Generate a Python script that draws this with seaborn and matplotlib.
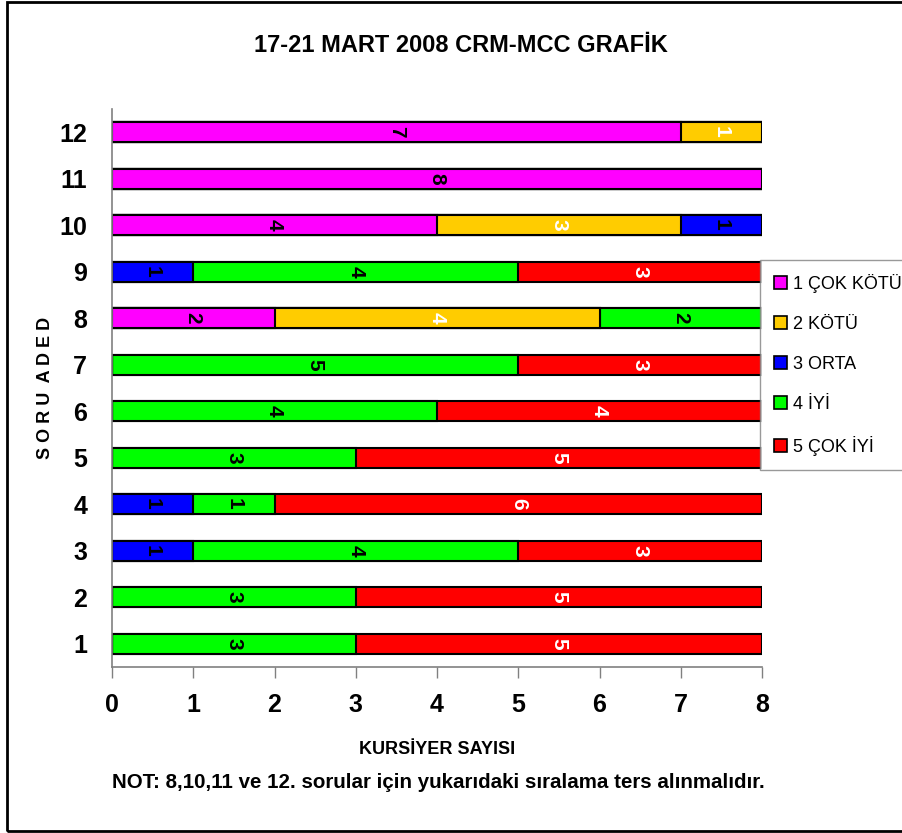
import matplotlib
matplotlib.use("Agg")
import matplotlib.pyplot as plt
import matplotlib.patches as mpatches
import numpy as np
import pandas as pd
import seaborn as sns

# Questions (bottom to top) and counts per rating
questions = ["1", "2", "3", "4", "5", "6", "7", "8", "9", "10", "11", "12"]
cok_kotu = [0, 0, 0, 0, 0, 0, 0, 2, 0, 4, 8, 7]
kotu     = [0, 0, 0, 0, 0, 0, 0, 4, 0, 3, 0, 1]
orta     = [0, 0, 1, 1, 0, 0, 0, 0, 1, 1, 0, 0]
iyi      = [3, 3, 4, 1, 3, 4, 5, 2, 4, 0, 0, 0]
cok_iyi  = [5, 5, 3, 6, 5, 4, 3, 0, 3, 0, 0, 0]

series_names = ["1 ÇOK KÖTÜ", "2 KÖTÜ", "3 ORTA", "4 İYİ", "5 ÇOK İYİ"]
series_values = [cok_kotu, kotu, orta, iyi, cok_iyi]
series_colors = ["#FF00FF", "#FFCC00", "#0000FF", "#00FF00", "#FF0000"]
label_colors = ["black", "white", "black", "black", "white"]

title = "17-21 MART 2008 CRM-MCC GRAFİK"
x_label = "KURSİYER SAYISI"
y_label = "S O R U  A D E D"
note = "NOT: 8,10,11 ve 12. sorular için yukarıdaki sıralama ters alınmalıdır."

sns.set_theme(style="white")
plt.rcParams["font.family"] = ["Liberation Sans", "DejaVu Sans"]
plt.rcParams["font.weight"] = "bold"
plt.rcParams["text.color"] = "black"
plt.rcParams["xtick.color"] = "black"
plt.rcParams["ytick.color"] = "black"

fig = plt.figure(figsize=(9.02, 8.33), dpi=100)
ax = fig.add_axes([112 / 902, 1 - 667 / 833, 650 / 902, 558 / 833])

order = questions[::-1]
df = pd.DataFrame({"soru": questions})
cum = np.zeros(len(questions))
cums = []
for vals in series_values:
    cum = cum + np.array(vals, dtype=float)
    cums.append(cum.copy())

# Stack by overlaying cumulative totals, longest first
for i in range(len(series_values) - 1, -1, -1):
    d = df.copy()
    d["toplam"] = cums[i]
    sns.barplot(data=d, x="toplam", y="soru", order=order, orient="h",
                color=series_colors[i], saturation=1, width=0.43,
                edgecolor="black", linewidth=1.5, ax=ax)

# Value labels centred in each segment
pos = {q: order.index(q) for q in questions}
for i, vals in enumerate(series_values):
    start = cums[i] - np.array(vals)
    for j, v in enumerate(vals):
        if v > 0:
            ax.text(start[j] + v / 2, pos[questions[j]], str(v), rotation=270,
                    ha="center", va="center", fontsize=15, fontweight="bold",
                    color=label_colors[i], rotation_mode="anchor")

ax.set_xlim(0, 8)
ax.set_ylim(len(questions) - 0.5, -0.5)
ax.set_xticks(range(0, 9))
ax.tick_params(axis="x", which="both", bottom=True, length=8, width=1,
               color="#808080", labelcolor="black",
               direction="out", pad=11, labelsize=18)
ax.tick_params(axis="y", left=False, pad=12, labelsize=18, labelcolor="black")
for lab in ax.get_xticklabels() + ax.get_yticklabels():
    lab.set_fontweight("bold")
ax.set_xlabel("")
ax.set_ylabel("")
for side in ["top", "right"]:
    ax.spines[side].set_visible(False)
for side in ["left", "bottom"]:
    ax.spines[side].set_color("#808080")
    ax.spines[side].set_linewidth(1.2)

fig.text(461 / 902, 1 - 45 / 833, title, ha="center", va="center",
         fontsize=17, fontweight="bold")
fig.text(437 / 902, 1 - 749 / 833, x_label, ha="center", va="center",
         fontsize=13, fontweight="bold")
fig.text(438 / 902, 1 - 783 / 833, note, ha="center", va="center",
         fontsize=14.8, fontweight="bold")
fig.text(45 / 902, 1 - 388 / 833, y_label, ha="center", va="center",
         rotation=90, fontsize=13, fontweight="bold")

handles = [mpatches.Patch(facecolor=c, edgecolor="black", linewidth=1.2, label=n)
           for c, n in zip(series_colors, series_names)]
leg = fig.legend(handles=handles, loc="upper left",
                 bbox_to_anchor=(760 / 902, 1 - 260 / 833),
                 frameon=True, fancybox=False, fontsize=13, handlelength=0.75,
                 handleheight=0.75, handletextpad=0.35, labelspacing=1.28,
                 borderpad=0.75, borderaxespad=0)
leg.get_frame().set_edgecolor("#808080")
leg.get_frame().set_linewidth(1)
for t in leg.get_texts():
    t.set_fontweight("normal")

# Outer frame
fig.patches.append(mpatches.Rectangle((7 / 902, 2 / 833), 1.0, 1 - 4 / 833,
                                      transform=fig.transFigure, fill=False,
                                      edgecolor="black", linewidth=2, clip_on=False))

fig.savefig("out.png", dpi=100)
